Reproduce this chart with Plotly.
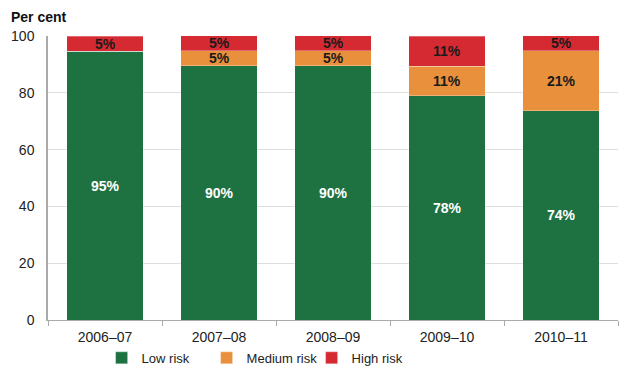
import plotly.graph_objects as go

categories = ["2006–07", "2007–08", "2008–09", "2009–10", "2010–11"]
low_risk = [94.7, 89.5, 89.5, 78.9, 73.7]
medium_risk = [0, 5.3, 5.3, 10.5, 21.1]
high_risk = [5.3, 5.3, 5.3, 10.5, 5.3]
low_labels = ["95%", "90%", "90%", "78%", "74%"]
medium_labels = ["", "5%", "5%", "11%", "21%"]
high_labels = ["5%", "5%", "5%", "11%", "5%"]
y_ticks = [0, 20, 40, 60, 80, 100]

FONT = "Liberation Sans, Arial, sans-serif"

fig = go.Figure()
series = [
    ("Low risk", low_risk, low_labels, "#1e7140", "white"),
    ("Medium risk", medium_risk, medium_labels, "#e8903b", "#1a1a1a"),
    ("High risk", high_risk, high_labels, "#d62a33", "#1a1a1a"),
]
annotations = []
base = [0.0] * len(categories)
for name, vals, labels, color, tcolor in series:
    fig.add_trace(go.Bar(
        name=name, x=categories, y=vals,
        marker=dict(color=color, line=dict(width=0.6, color="rgba(255,255,255,0.5)")),
    ))
    for i, (c, v, lab) in enumerate(zip(categories, vals, labels)):
        if lab:
            annotations.append(dict(
                x=c, y=base[i] + v / 2, xref="x", yref="y", text="<b>" + lab + "</b>",
                showarrow=False, font=dict(family=FONT, size=14, color=tcolor),
            ))
        base[i] += v

annotations.append(dict(text="<b>Per cent</b>", x=0, xref="paper", xanchor="left",
                        xshift=-39, y=1, yref="paper", yanchor="bottom", yshift=9,
                        showarrow=False, font=dict(size=14, color="#111")))

fig.update_layout(
    barmode="stack",
    bargap=0.33,
    width=620, height=366,
    margin=dict(l=40, r=10, t=28, b=54, autoexpand=False),
    paper_bgcolor="white", plot_bgcolor="white",
    font=dict(family=FONT, size=13, color="#222"),
    showlegend=True,
    legend=dict(orientation="h", x=0.405, xanchor="center", xref="container",
                y=0.044, yanchor="middle", yref="container",
                font=dict(size=13, color="#222"), traceorder="normal",
                itemwidth=30, tracegroupgap=0, entrywidth=60),
    annotations=annotations,
)
fig.update_xaxes(
    tickson="boundaries", ticks="outside", ticklen=5, tickcolor="#aaa",
    showline=True, linecolor="#aaa", linewidth=1,
    tickfont=dict(size=14, color="#222"), ticklabelstandoff=4,
)
fig.update_yaxes(
    range=[0, 100], tickvals=y_ticks, showgrid=True, gridcolor="#dedede",
    showline=True, linecolor="#aaa", linewidth=1.5, zeroline=False,
    tickfont=dict(size=14, color="#222"), ticks="", ticklabelstandoff=9,
)

fig.write_html("out.html")
